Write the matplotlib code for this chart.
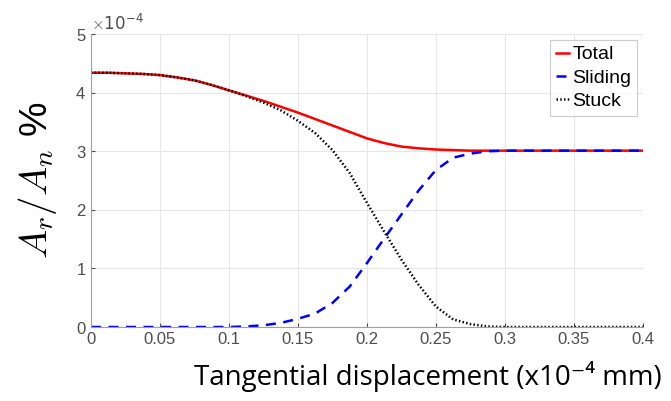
import matplotlib.pyplot as plt
import numpy as np

# tangential displacement (x1e-4 mm)
disp = [0, 0.0125, 0.025, 0.0375, 0.05, 0.0625, 0.075, 0.0875, 0.1, 0.1125,
        0.125, 0.1375, 0.15, 0.1625, 0.175, 0.1875, 0.2, 0.2125, 0.225, 0.2375,
        0.25, 0.2625, 0.275, 0.2875, 0.3, 0.3125, 0.325, 0.3375, 0.35, 0.3625,
        0.375, 0.3875, 0.4]

# contact area ratio, in units of 1e-4
total = [4.34, 4.34, 4.33, 4.32, 4.30, 4.26, 4.21, 4.13, 4.04, 3.95,
         3.86, 3.76, 3.66, 3.55, 3.44, 3.33, 3.22, 3.14, 3.08, 3.05,
         3.03, 3.02, 3.01, 3.01, 3.01, 3.01, 3.01, 3.01, 3.01, 3.01,
         3.01, 3.01, 3.01]
sliding = [0, 0, 0, 0, 0, 0, 0, 0, 0, 0.01,
           0.03, 0.07, 0.14, 0.23, 0.41, 0.69, 1.09, 1.51, 1.92, 2.33,
           2.68, 2.89, 2.96, 3.00, 3.01, 3.01, 3.01, 3.01, 3.01, 3.01,
           3.01, 3.01, 3.01]
stuck = [4.34, 4.34, 4.33, 4.32, 4.30, 4.26, 4.21, 4.13, 4.04, 3.94,
         3.83, 3.70, 3.52, 3.31, 3.02, 2.63, 2.12, 1.63, 1.15, 0.72,
         0.35, 0.13, 0.05, 0.01, 0, 0, 0, 0, 0, 0,
         0, 0, 0]

SCALE = 1e-4

plt.rcParams['mathtext.fontset'] = 'cm'
plt.rcParams['font.family'] = ['Liberation Sans', 'DejaVu Sans']
fig = plt.figure(figsize=(6.71, 4.01), dpi=100)
ax = fig.add_axes([0.1356, 0.1845, 0.8224, 0.7305])

x = np.array(disp)
ax.plot(x, np.array(total) * SCALE, color='#ff0000', lw=1.8, label='Total')
ax.plot(x, np.array(sliding) * SCALE, color='#0000ff', lw=1.8,
        ls=(0, (4, 3)), label='Sliding')
ax.plot(x, np.array(stuck) * SCALE, color='black', lw=1.8,
        ls=(0, (0.6, 0.9)), label='Stuck')

ax.set_xlim(0, 0.4)
ax.set_ylim(0, 5e-4)
ax.set_xticks(np.arange(0, 0.41, 0.05))
ax.set_xticklabels(['0', '0.05', '0.1', '0.15', '0.2', '0.25', '0.3', '0.35', '0.4'])
ax.set_yticks(np.arange(0, 5.1, 1) * SCALE)
ax.ticklabel_format(axis='y', style='sci', scilimits=(0, 0), useMathText=True)
off = ax.yaxis.get_offset_text()
off.set_fontsize(12)
off.set_color('#4d4d4d')
off.set_family('DejaVu Sans')

ax.grid(True, color='#e6e6e6', lw=0.8)
ax.set_axisbelow(True)
for side in ['top', 'right']:
    ax.spines[side].set_visible(False)
for side in ['left', 'bottom']:
    ax.spines[side].set_color('#a0a0a0')
ax.tick_params(labelsize=12, colors='#4d4d4d', length=3, direction='in')

ax.set_xlabel('Tangential displacement (x10\u207b\u2074 mm)',
              fontsize=20, family=['Open Sans', 'DejaVu Sans'], color='black')
ax.xaxis.set_label_coords(0.61, -0.115)
ax.set_ylabel('$A_r/A_n$ %', fontsize=28, color='black', labelpad=12)

leg = ax.legend(loc='upper right', fontsize=14, frameon=True, fancybox=False,
                handlelength=0.7, handletextpad=0.15, borderpad=0.3,
                labelspacing=0.3, borderaxespad=0.3)
leg.get_frame().set_edgecolor('#c0c0c0')
leg.get_frame().set_linewidth(0.8)

fig.savefig('out.png', dpi=100)
